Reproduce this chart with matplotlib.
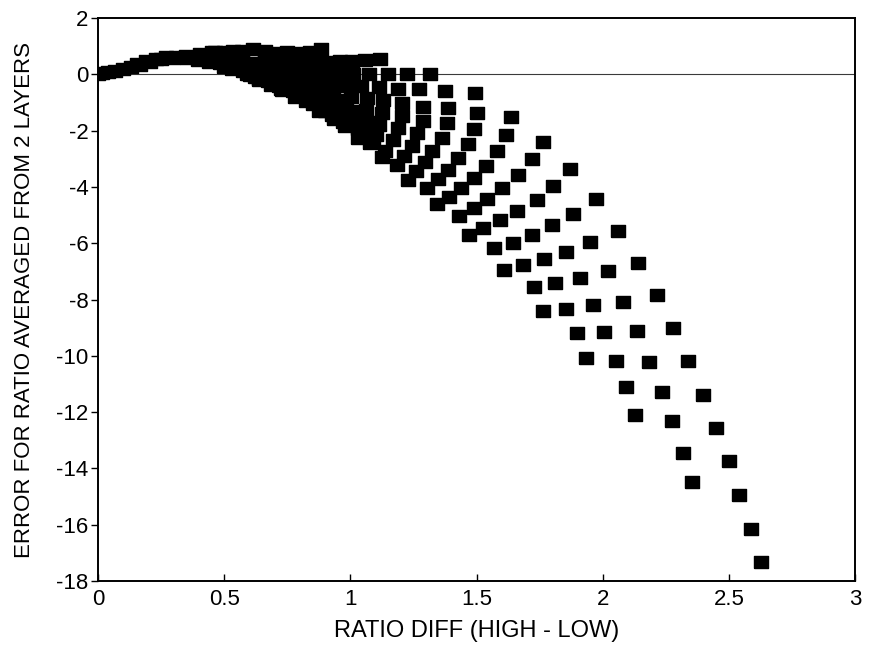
import numpy as np
import matplotlib.pyplot as plt

plt.rcParams['font.family'] = ['Liberation Sans Narrow', 'Liberation Sans', 'DejaVu Sans']

# one list per family of runs, ordered from the top of the curve downward
diff_a = [0.884, 1.118, 1.316, 1.494, 1.637, 1.764, 1.871, 1.974, 2.061, 2.140, 2.216, 2.279, 2.338, 2.398, 2.449, 2.501, 2.541, 2.588, 2.628]
err_a = [0.90, 0.56, 0.0, -0.66, -1.52, -2.41, -3.36, -4.43, -5.57, -6.70, -7.84, -9.01, -10.18, -11.39, -12.56, -13.74, -14.94, -16.15, -17.33]

diff_b = [0.793, 1.007, 1.225, 1.375, 1.502, 1.617, 1.719, 1.805, 1.884, 1.951, 2.023, 2.080, 2.135, 2.185, 2.234, 2.276, 2.320, 2.356]
err_b = [0.74, 0.47, 0.0, -0.59, -1.37, -2.16, -3.02, -3.96, -4.96, -5.95, -6.99, -8.08, -9.11, -10.21, -11.28, -12.32, -13.44, -14.49]

diff_c = [0.706, 0.912, 1.149, 1.272, 1.387, 1.490, 1.580, 1.663, 1.738, 1.798, 1.855, 1.910, 1.960, 2.006, 2.053, 2.093, 2.128]
err_c = [0.76, 0.44, 0.0, -0.52, -1.20, -1.94, -2.72, -3.58, -4.47, -5.37, -6.30, -7.23, -8.20, -9.17, -10.17, -11.12, -12.12]

diff_d = [0.614, 0.828, 1.074, 1.189, 1.288, 1.383, 1.468, 1.538, 1.603, 1.660, 1.719, 1.768, 1.811, 1.855, 1.897, 1.934]
err_d = [0.90, 0.40, 0.0, -0.52, -1.16, -1.73, -2.49, -3.26, -4.04, -4.86, -5.71, -6.57, -7.42, -8.35, -9.20, -10.09]

diff_e = [0.535, 0.753, 1.011, 1.114, 1.205, 1.288, 1.363, 1.427, 1.490, 1.542, 1.593, 1.645, 1.686, 1.728, 1.763]
err_e = [0.84, 0.40, 0.0, -0.45, -1.02, -1.66, -2.26, -2.97, -3.68, -4.43, -5.19, -5.98, -6.79, -7.57, -8.40]

diff_f = [0.464, 0.686, 0.951, 1.042, 1.130, 1.205, 1.264, 1.324, 1.387, 1.439, 1.490, 1.526, 1.570, 1.609]
err_f = [0.78, 0.40, 0.0, -0.42, -0.91, -1.48, -2.09, -2.72, -3.40, -4.04, -4.75, -5.46, -6.17, -6.95]

diff_g = [0.404, 0.626, 0.896, 0.983, 1.066, 1.126, 1.189, 1.245, 1.296, 1.348, 1.391, 1.431, 1.470]
err_g = [0.72, 0.40, 0.0, -0.42, -0.84, -1.37, -1.91, -2.55, -3.12, -3.72, -4.36, -5.03, -5.71]

diff_h = [0.349, 0.575, 0.844, 0.927, 1.003, 1.062, 1.114, 1.169, 1.213, 1.260, 1.304, 1.344]
err_h = [0.66, 0.40, 0.0, -0.38, -0.81, -1.27, -1.80, -2.33, -2.90, -3.44, -4.04, -4.61]

diff_i = [0.297, 0.527, 0.793, 0.868, 0.931, 0.983, 1.031, 1.090, 1.138, 1.185, 1.229]
err_i = [0.58, 0.40, 0.0, -0.38, -0.77, -1.23, -1.69, -2.30, -2.72, -3.22, -3.75]

diff_j = [0.250, 0.484, 0.749, 0.816, 0.880, 0.931, 0.983, 1.031, 1.078, 1.126]
err_j = [0.53, 0.40, 0.0, -0.34, -0.70, -1.13, -1.55, -1.94, -2.44, -2.94]

diff_k = [0.206, 0.440, 0.702, 0.765, 0.824, 0.876, 0.927, 0.979, 1.031]
err_k = [0.44, 0.44, 0.0, -0.31, -0.66, -1.06, -1.45, -1.84, -2.26]

diff_l = [0.166, 0.396, 0.658, 0.717, 0.773, 0.824, 0.876, 0.935]
err_l = [0.33, 0.51, 0.0, -0.27, -0.59, -0.95, -1.31, -1.58]

diff_m = [0.131, 0.353, 0.622, 0.674, 0.725, 0.781, 0.852]
err_m = [0.27, 0.58, 0.0, -0.24, -0.52, -0.81, -1.05]

diff_n = [0.099, 0.309, 0.591, 0.638, 0.686, 0.785]
err_n = [0.20, 0.61, 0.0, -0.17, -0.38, -0.70]

diff_o = [0.067, 0.270, 0.575, 0.622, 0.717]
err_o = [0.13, 0.61, 0.12, -0.10, -0.42]

diff_p = [0.040, 0.230, 0.531, 0.602]
err_p = [0.08, 0.54, 0.19, -0.02]

diff_q = [0.016, 0.190, 0.499]
err_q = [0.05, 0.47, 0.26]

diff_r = [0.0, 0.155]
err_r = [0.0, 0.38]

# the packed part of the cloud between 0.45 and 1.1
diff_s = [0.45, 0.50, 0.57, 0.66, 0.75, 0.84]
err_s = [0.78, 0.80, 0.84, 0.82, 0.78, 0.80]

diff_t = [0.50, 0.56, 0.66, 0.72, 0.78, 0.87, 0.96, 1.06]
err_t = [0.45, 0.45, 0.45, 0.45, 0.43, 0.43, 0.46, 0.50]

diff_u = [0.56, 0.62, 0.68, 0.74, 0.80, 0.86, 0.92]
err_u = [0.22, 0.20, 0.20, 0.20, 0.20, 0.20, 0.20]

diff_v = [0.64, 0.70, 0.76, 0.82, 0.88]
err_v = [-0.20, -0.20, -0.20, -0.20, -0.20]

diff_w = [0.73, 0.79, 0.85, 0.91]
err_w = [-0.55, -0.55, -0.55, -0.55]

diff_x = [0.83, 0.89, 0.95, 0.90, 0.96, 1.01]
err_x = [-0.90, -0.90, -0.90, -1.30, -1.30, -1.30]

diff_y = [0.97, 1.03, 1.08, 1.05, 1.10]
err_y = [-1.70, -1.70, -1.70, -2.15, -2.15]

runs = [(diff_a, err_a), (diff_b, err_b), (diff_c, err_c), (diff_d, err_d),
        (diff_e, err_e), (diff_f, err_f), (diff_g, err_g), (diff_h, err_h),
        (diff_i, err_i), (diff_j, err_j), (diff_k, err_k), (diff_l, err_l),
        (diff_m, err_m), (diff_n, err_n), (diff_o, err_o), (diff_p, err_p),
        (diff_q, err_q), (diff_r, err_r), (diff_s, err_s), (diff_t, err_t),
        (diff_u, err_u), (diff_v, err_v), (diff_w, err_w), (diff_x, err_x),
        (diff_y, err_y)]

x_ticks = [0, 0.5, 1, 1.5, 2, 2.5, 3]
x_labels = ['0', '0.5', '1', '1.5', '2', '2.5', '3']
y_ticks = [-18, -16, -14, -12, -10, -8, -6, -4, -2, 0, 2]

# slightly wide rectangle marker
box = [(-1, -0.82), (1, -0.82), (1, 0.82), (-1, 0.82), (-1, -0.82)]

fig = plt.figure(figsize=(8.69, 6.5), dpi=100)
ax = fig.add_axes([98/869, 69/650, 757/869, 563/650])

ax.axhline(0, color='#3a3a3a', linewidth=0.8, zorder=1)
for xs, ys in runs:
    ax.plot(xs, ys, marker=box, markersize=10.3, color='black', linestyle='None', zorder=2)

ax.set_xlim([0, 3])
ax.set_ylim([-18, 2])
ax.set_xticks(x_ticks)
ax.set_xticklabels(x_labels, fontsize=16)
ax.set_yticks(y_ticks)
ax.set_yticklabels([str(t) for t in y_ticks], fontsize=16)
ax.tick_params(axis='x', direction='in', length=5, width=1, pad=6)
ax.tick_params(axis='y', direction='out', length=5, width=1, pad=2)
ax.set_xlabel('RATIO DIFF (HIGH - LOW)', fontsize=17, labelpad=7)
ax.set_ylabel('ERROR FOR RATIO AVERAGED FROM 2 LAYERS', fontsize=16, labelpad=15)
for side in ax.spines.values():
    side.set_linewidth(1.4)

plt.savefig('out.png', dpi=100)
